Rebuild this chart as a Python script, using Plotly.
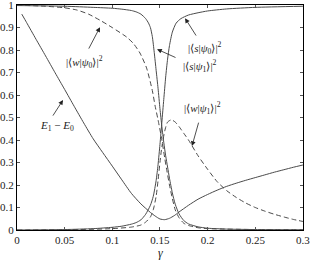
import plotly.graph_objects as go

# ---- data ----
g_E = [0.005, 0.01, 0.02, 0.03, 0.04, 0.05, 0.06, 0.07, 0.08, 0.09, 0.10, 0.11, 0.12, 0.13,
       0.14, 0.145, 0.15, 0.155, 0.16, 0.165, 0.17, 0.18, 0.19, 0.20, 0.21, 0.22, 0.23, 0.24,
       0.25, 0.26, 0.27, 0.28, 0.29, 0.30]
E_gap = [0.96, 0.923, 0.848, 0.774, 0.699, 0.625, 0.55, 0.476, 0.405, 0.344, 0.284, 0.223, 0.163, 0.116,
         0.078, 0.062, 0.049, 0.046, 0.052, 0.064, 0.08, 0.11, 0.137, 0.158, 0.177, 0.194, 0.208, 0.221,
         0.233, 0.245, 0.257, 0.268, 0.279, 0.289]

g_s0 = [0.0, 0.05, 0.08, 0.10, 0.11, 0.12, 0.125, 0.13, 0.135, 0.14, 0.143, 0.146, 0.148, 0.15,
        0.152, 0.154, 0.156, 0.158, 0.16, 0.163, 0.167, 0.172, 0.18, 0.19, 0.20, 0.22, 0.25, 0.30]
s_psi0 = [0.0, 0.002, 0.006, 0.012, 0.017, 0.026, 0.033, 0.045, 0.07, 0.11, 0.15, 0.22, 0.29, 0.38,
          0.48, 0.58, 0.68, 0.76, 0.82, 0.88, 0.92, 0.94, 0.956, 0.966, 0.974, 0.983, 0.99, 0.995]

g_s1 = [0.0, 0.05, 0.08, 0.10, 0.11, 0.12, 0.125, 0.13, 0.135, 0.138, 0.14, 0.142, 0.144, 0.146,
        0.148, 0.15, 0.152, 0.154, 0.156, 0.158, 0.16, 0.163, 0.166, 0.17, 0.175, 0.18, 0.19, 0.20,
        0.22, 0.25, 0.30]
s_psi1 = [0.998, 0.995, 0.99, 0.986, 0.982, 0.976, 0.97, 0.96, 0.94, 0.92, 0.9, 0.86, 0.79, 0.71,
          0.63, 0.54, 0.46, 0.39, 0.33, 0.28, 0.23, 0.165, 0.115, 0.072, 0.042, 0.027, 0.014, 0.008,
          0.004, 0.002, 0.001]

g_w0 = [0.0, 0.03, 0.05, 0.063, 0.075, 0.087, 0.10, 0.115, 0.122, 0.129, 0.136, 0.142, 0.145,
        0.148, 0.152, 0.155, 0.157, 0.16, 0.163, 0.166, 0.17, 0.175, 0.18, 0.19, 0.20, 0.25, 0.30]
w_psi0 = [1.0, 0.995, 0.988, 0.978, 0.96, 0.933, 0.9, 0.858, 0.83, 0.787, 0.72, 0.62, 0.55,
          0.49, 0.4, 0.32, 0.27, 0.2, 0.14, 0.09, 0.055, 0.03, 0.02, 0.01, 0.006, 0.002, 0.001]

g_w1 = [0.0, 0.05, 0.10, 0.12, 0.13, 0.135, 0.14, 0.143, 0.146, 0.148, 0.15, 0.152, 0.155, 0.158,
        0.162, 0.166, 0.17, 0.175, 0.18, 0.19, 0.20, 0.21, 0.22, 0.23, 0.24, 0.25, 0.26, 0.27,
        0.28, 0.29, 0.30]
w_psi1 = [0.0, 0.001, 0.006, 0.013, 0.022, 0.035, 0.058, 0.09, 0.15, 0.22, 0.3, 0.37, 0.44, 0.48,
          0.49, 0.48, 0.46, 0.43, 0.4, 0.33, 0.27, 0.215, 0.175, 0.145, 0.12, 0.1, 0.084, 0.07,
          0.058, 0.047, 0.038]

x_ticks = [0, 0.05, 0.1, 0.15, 0.2, 0.25, 0.3]
y_ticks = [0, 0.1, 0.2, 0.3, 0.4, 0.5, 0.6, 0.7, 0.8, 0.9, 1]

LC = "#4a4a4a"
FONT = "Liberation Serif, Times New Roman, serif"

fig = go.Figure()
def add(x, y, dash):
    fig.add_trace(go.Scatter(x=x, y=y, mode="lines",
                             line=dict(color=LC, width=1, dash=dash, shape="spline", smoothing=0.6),
                             showlegend=False, hoverinfo="skip", cliponaxis=True))

add(g_E, E_gap, "solid")
add(g_s0, s_psi0, "solid")
add(g_s1, s_psi1, "solid")
add(g_w0, w_psi0, "5px,3px")
add(g_w1, w_psi1, "5px,3px")

labels = [
    # text, text pos, tail, head
    ("|⟨<i>w</i>|<i>ψ</i><sub>0</sub>⟩|<sup>2</sup>", (0.0703, 0.747), (0.0745, 0.80), (0.0871, 0.902)),
    ("<i>E</i><sub>1</sub> − <i>E</i><sub>0</sub>", (0.042, 0.462), (0.0367, 0.502), (0.0483, 0.578)),
    ("|⟨<i>s</i>|<i>ψ</i><sub>0</sub>⟩|<sup>2</sup>", (0.1973, 0.809), (0.1889, 0.858), (0.1763, 0.942)),
    ("|⟨<i>s</i>|<i>ψ</i><sub>1</sub>⟩|<sup>2</sup>", (0.192, 0.729), (0.1679, 0.764), (0.1469, 0.804)),
    ("|⟨<i>w</i>|<i>ψ</i><sub>1</sub>⟩|<sup>2</sup>", (0.195, 0.542), (0.191, 0.484), (0.1836, 0.373)),
]
for txt, tp, tail, head in labels:
    fig.add_annotation(x=tp[0], y=tp[1], text=txt, showarrow=False,
                       font=dict(family=FONT, size=11, color="#222"))
    fig.add_annotation(x=head[0], y=head[1], ax=tail[0], ay=tail[1], axref="x", ayref="y",
                       text="", showarrow=True, arrowhead=2, arrowsize=1.2, arrowwidth=0.8,
                       arrowcolor="#222")

fig.add_annotation(x=0.5, y=-0.06, xref="paper", yref="paper", yanchor="top", text="<i>γ</i>",
                   showarrow=False, font=dict(family=FONT, size=12, color="#222"))

axis_common = dict(showline=True, linecolor="black", linewidth=1, mirror="ticks",
                   ticks="inside", ticklen=3, tickcolor="#555", showgrid=False, zeroline=False,
                   automargin=False, ticklabeloverflow="allow",
                   tickfont=dict(family=FONT, size=11, color="#222"))
fig.update_xaxes(range=[0, 0.3001], tickvals=x_ticks, ticktext=[f"{v:g}" for v in x_ticks],
                 **axis_common)
fig.update_yaxes(range=[0, 1.0005], tickvals=y_ticks, ticktext=[f"{v:g}" for v in y_ticks],
                 **axis_common)
fig.update_layout(width=311, height=260, margin=dict(l=17, r=8, t=5, b=30, autoexpand=False),
                  paper_bgcolor="white", plot_bgcolor="white")
fig.write_html("out.html", config={"displayModeBar": False},
               post_script="document.body.style.margin='0';document.body.style.overflow='hidden';")
